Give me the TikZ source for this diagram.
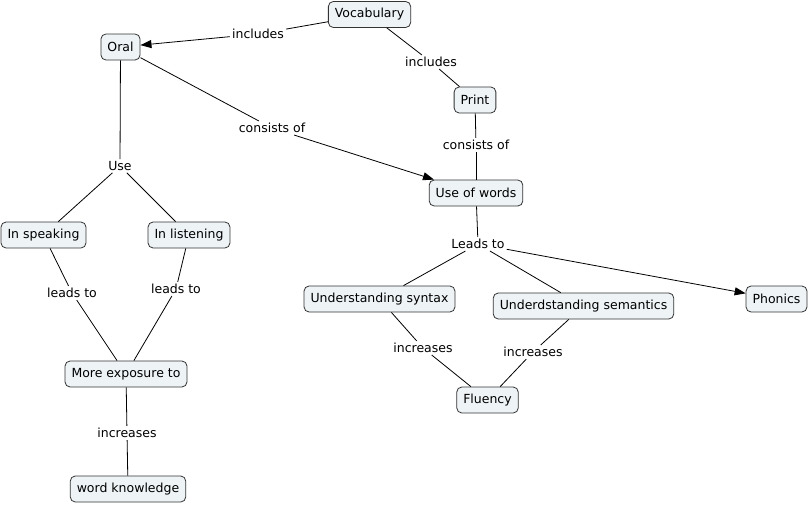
\documentclass[tikz,border=0pt]{standalone}
\usepackage{fontspec}
\setmainfont{DejaVu Sans}
\usetikzlibrary{arrows.meta}
\begin{document}
\begin{tikzpicture}[x=1pt,y=-1pt,
  concept/.style={draw=black!80,line width=0.8pt,rounded corners=5pt,fill=boxfill,
    minimum height=26pt,inner xsep=6.5pt,font=\fontsize{12.5}{14}\selectfont},
  lbl/.style={inner sep=2pt,font=\fontsize{12.5}{14}\selectfont},
  link/.style={draw=black,line width=0.8pt},
  arr/.style={link,-{Triangle[length=11pt,width=8pt]}}]
\definecolor{boxfill}{HTML}{EEF3F6}
\useasboundingbox (0,0) rectangle (810,506);
% concepts
\node[concept] (voc) at (369.5,14.5) {Vocabulary};
\node[concept] (oral) at (120.5,47) {Oral};
\node[concept] (print) at (475,100) {Print};
\node[concept] (use) at (476,193) {Use of words};
\node[concept] (spk) at (43.5,235) {In speaking};
\node[concept] (lst) at (189,235) {In listening};
\node[concept] (more) at (126,374) {More exposure to};
\node[concept] (wk) at (128,489) {word knowledge};
\node[concept] (syn) at (379.5,299) {Understanding syntax};
\node[concept] (sem) at (583.5,306) {Underdstanding semantics};
\node[concept] (flu) at (487.5,400) {Fluency};
\node[concept] (pho) at (776.5,299) {Phonics};
% labels
\node[lbl] (l1) at (258,34) {includes};
\node[lbl] (l2) at (431,62) {includes};
\node[lbl] (l3) at (272,128) {consists of};
\node[lbl] (l4) at (476,145) {consists of};
\node[lbl] (l5) at (120,166) {Use};
\node[lbl] (l6) at (72,293) {leads to};
\node[lbl] (l7) at (176,289) {leads to};
\node[lbl] (l8) at (127,433) {increases};
\node[lbl] (l9) at (478,244) {Leads to};
\node[lbl] (l10) at (423,348) {increases};
\node[lbl] (l11) at (533,352) {increases};
% connectors
\draw[link] (voc) -- (l1); \draw[arr] (l1) -- (oral);
\draw[link] (voc) -- (l2); \draw[link] (l2) -- (print);
\draw[link] (oral) -- (l3); \draw[arr] (l3) -- (use);
\draw[link] (print) -- (l4); \draw[link] (l4) -- (use);
\draw[link] (oral) -- (l5);
\draw[link] (l5) -- (spk); \draw[link] (l5) -- (lst);
\draw[link] (spk) -- (l6); \draw[link] (l6) -- (more);
\draw[link] (lst) -- (l7); \draw[link] (l7) -- (more);
\draw[link] (more) -- (l8); \draw[link] (l8) -- (wk);
\draw[link] (use) -- (l9);
\draw[link] (l9) -- (syn); \draw[link] (l9) -- (sem); \draw[arr] (l9) -- (pho);
\draw[link] (syn) -- (l10); \draw[link] (l10) -- (flu);
\draw[link] (sem) -- (l11); \draw[link] (l11) -- (flu);
\end{tikzpicture}
\end{document}
